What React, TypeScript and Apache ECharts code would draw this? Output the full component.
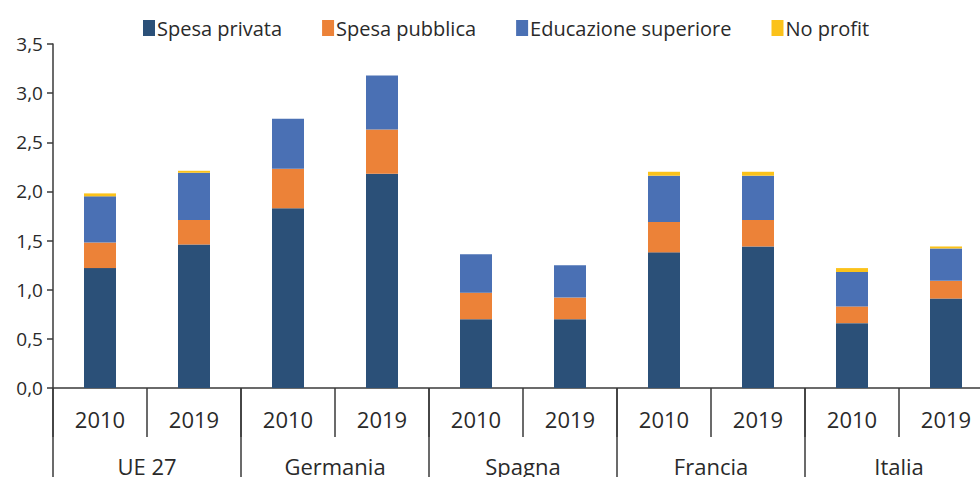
import React, { useEffect, useRef } from "react";
import * as echarts from "echarts";

const years = ["2010", "2019", "2010", "2019", "2010", "2019", "2010", "2019", "2010", "2019"];
const countries = ["UE 27", "Germania", "Spagna", "Francia", "Italia"];
const seriesNames = ["Spesa privata", "Spesa pubblica", "Educazione superiore", "No profit"];
const spesaPrivata = [1.22, 1.46, 1.83, 2.18, 0.7, 0.7, 1.38, 1.44, 0.66, 0.91];
const spesaPubblica = [0.26, 0.25, 0.4, 0.45, 0.27, 0.22, 0.31, 0.27, 0.17, 0.18];
const educazioneSuperiore = [0.47, 0.48, 0.51, 0.55, 0.39, 0.33, 0.47, 0.45, 0.35, 0.33];
const noProfit = [0.03, 0.02, 0, 0, 0, 0, 0.04, 0.04, 0.04, 0.02];
const colors = ["#2b5078", "#ec8238", "#4a70b4", "#fbc21a"];

const FONT = "Open Sans";
const AXIS_COLOR = "#3a3a3a";
const TEXT_COLOR = "#2a2a2a";

export default function App() {
  const ref = useRef<HTMLDivElement>(null);
  useEffect(() => {
    if (!ref.current) return;
    const chart = echarts.init(ref.current, null, { renderer: "svg" });
    const values = [spesaPrivata, spesaPubblica, educazioneSuperiore, noProfit];
    chart.setOption({
      animation: false,
      textStyle: { fontFamily: FONT },
      color: colors,
      legend: {
        left: 138,
        top: 13,
        icon: "rect",
        itemWidth: 12,
        itemHeight: 16,
        itemGap: 40,
        textStyle: { fontFamily: FONT, fontSize: 20, color: TEXT_COLOR, padding: [0, 0, 0, -3] },
        data: seriesNames,
      },
      grid: { left: 53, top: 44, width: 940, height: 344, containLabel: false },
      xAxis: [
        {
          type: "category",
          data: years,
          position: "bottom",
          axisLine: { show: true, lineStyle: { color: AXIS_COLOR, width: 1.5 } },
          axisTick: { show: true, interval: 0, length: 49, lineStyle: { color: AXIS_COLOR, width: 1.5 } },
          axisLabel: { interval: 0, margin: 20, fontSize: 22, color: TEXT_COLOR, fontFamily: FONT },
        },
        {
          type: "category",
          data: countries,
          position: "bottom",
          axisLine: { show: false },
          axisTick: { show: true, interval: 0, length: 120, lineStyle: { color: AXIS_COLOR, width: 1.5 } },
          axisLabel: { interval: 0, margin: 67, fontSize: 22, color: TEXT_COLOR, fontFamily: FONT },
        },
      ],
      yAxis: {
        type: "value",
        min: 0,
        max: 3.5,
        interval: 0.5,
        splitLine: { show: false },
        axisLine: { show: true, lineStyle: { color: AXIS_COLOR, width: 1.5 } },
        axisTick: { show: true, length: 6, lineStyle: { color: AXIS_COLOR, width: 1.5 } },
        axisLabel: {
          margin: 10,
          fontSize: 19,
          color: TEXT_COLOR,
          fontFamily: FONT,
          formatter: (v: number) => v.toFixed(1).replace(".", ","),
        },
      },
      series: seriesNames.map((name, i) => ({
        name,
        type: "bar",
        stack: "total",
        xAxisIndex: 0,
        barWidth: 32,
        itemStyle: { color: colors[i] },
        data: values[i],
      })),
    });
    return () => chart.dispose();
  }, []);
  return (
    <div
      style={{
        position: "fixed",
        left: 0,
        top: 0,
        width: 980,
        height: 477,
        overflow: "hidden",
        background: "#fff",
      }}
    >
      <div ref={ref} style={{ width: 1010, height: 477 }} />
    </div>
  );
}
